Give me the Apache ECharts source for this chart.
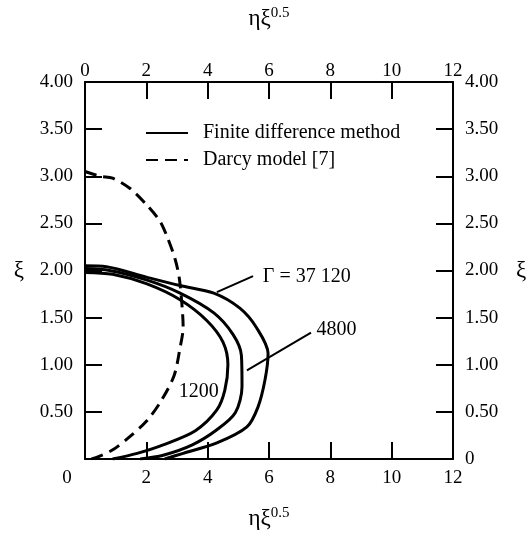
<!DOCTYPE html>
<html>
<head>
<meta charset="utf-8">
<script src="https://cdn.jsdelivr.net/npm/echarts@6/dist/echarts.min.js"></script>
<style>
  html, body { margin: 0; padding: 0; background: #fff; }
  #chart { width: 526px; height: 535px; }
</style>
</head>
<body>
<div id="chart"></div>
<script>
// curves: [eta*xi^0.5, xi]
const gamma37120 = [[0, 2.05], [0.7, 2.04], [2.0, 1.93], [3.1, 1.84], [4.2, 1.76], [5.05, 1.6], [5.6, 1.39], [5.97, 1.12],
  [5.87, 0.84], [5.64, 0.55], [5.28, 0.34], [4.3, 0.17], [3.2, 0.06], [2.6, 0]];
const gamma4800 = [[0, 2.02], [0.8, 2.0], [2.0, 1.9], [3.1, 1.76], [4.2, 1.55], [4.83, 1.32], [5.1, 1.1], [5.12, 0.77],
  [4.9, 0.49], [4.3, 0.31], [3.5, 0.15], [2.55, 0.04], [1.8, 0]];
const gamma1200 = [[0, 1.98], [0.9, 1.96], [2.0, 1.86], [3.1, 1.69], [3.97, 1.47], [4.5, 1.24], [4.66, 1.0], [4.56, 0.73],
  [4.3, 0.52], [3.6, 0.3], [2.55, 0.15], [1.7, 0.06], [0.9, 0]];
const darcy = [[0, 3.05], [0.5, 3.0], [0.9, 2.98], [1.47, 2.87], [2.0, 2.7], [2.45, 2.52], [2.7, 2.34], [2.93, 2.13],
  [3.07, 1.93], [3.17, 1.6], [3.2, 1.4], [3.1, 1.18], [2.9, 0.88], [2.45, 0.6], [2.0, 0.4], [1.47, 0.24], [0.92, 0.1],
  [0.4, 0.02], [0.2, 0]];

// annotations
const leader37120 = [[4.3, 1.77], [5.48, 1.94]];
const leader4800 = [[5.28, 0.94], [7.37, 1.34]];
const annoText = ['Γ = 37 120', '4800', '1200'];
const annoPos = [[5.8, 1.93], [7.55, 1.37], [3.06, 0.71]];

const xTicks = [0, 2, 4, 6, 8, 10, 12];
const yTicks = [0, 0.5, 1, 1.5, 2, 2.5, 3, 3.5, 4];

const font = '"Liberation Serif", "DejaVu Serif", serif';
const ink = '#000';

const nameRich = {
  a: { fontFamily: font, fontSize: 23, color: ink, lineHeight: 24, verticalAlign: 'bottom' },
  s: { fontFamily: font, fontSize: 15, color: ink, lineHeight: 24, verticalAlign: 'top' }
};

const chart = echarts.init(document.getElementById('chart'));

const axisCommon = {
  type: 'value',
  axisLine: { show: true, onZero: false, lineStyle: { color: ink, width: 2 } },
  axisTick: { show: true, inside: true, length: 17, lineStyle: { color: ink, width: 2 } },
  splitLine: { show: false }
};

function xAxis(pos) {
  return Object.assign({}, axisCommon, {
    position: pos,
    min: xTicks[0], max: xTicks[xTicks.length - 1], interval: 2,
    name: '{a|ηξ}{s|0.5}',
    nameLocation: 'middle',
    nameGap: pos === 'top' ? 52 : 47,
    nameTextStyle: { rich: nameRich },
    axisLabel: {
      fontFamily: font, fontSize: 19, color: ink, margin: pos === 'top' ? 1 : 10,
      formatter: v => (pos === 'bottom' && v === 0) ? '{z|0}' : String(v),
      rich: { z: { fontFamily: font, fontSize: 19, color: ink, padding: [0, 36, 0, 0] } }
    }
  });
}

function yAxis(pos) {
  return Object.assign({}, axisCommon, {
    position: pos,
    min: yTicks[0], max: yTicks[yTicks.length - 1], interval: 0.5,
    name: 'ξ',
    nameLocation: 'middle',
    nameRotate: 0,
    nameGap: pos === 'left' ? 61 : 63,
    nameTextStyle: { fontFamily: font, fontSize: 23, color: ink },
    axisLabel: {
      fontFamily: font, fontSize: 19, color: ink, margin: 12,
      formatter: v => v === 0 ? (pos === 'left' ? '' : '0') : v.toFixed(2)
    }
  });
}

function solid(data) {
  return {
    name: 'Finite difference method', type: 'line', data: data,
    xAxisIndex: 0, yAxisIndex: 0,
    showSymbol: false, symbol: 'none', smooth: 0.3,
    lineStyle: { color: ink, width: 3 }, itemStyle: { color: ink },
    z: 3
  };
}

function leader(data) {
  return {
    name: 'leader', type: 'line', data: data, symbol: 'none',
    lineStyle: { color: ink, width: 2 }, silent: true
  };
}

chart.setOption({
  animation: false,
  backgroundColor: '#fff',
  grid: { left: 85, right: 73, top: 82, bottom: 76, containLabel: false, outerBoundsMode: 'none' },
  xAxis: [xAxis('bottom'), xAxis('top')],
  yAxis: [yAxis('left'), yAxis('right')],
  legend: {
    data: ['Finite difference method', 'Darcy model [7]'],
    orient: 'vertical',
    left: 145, top: 123, padding: 0,
    itemWidth: 42, itemHeight: 14, itemGap: 7,
    itemStyle: { opacity: 0 },
    textStyle: { fontFamily: font, fontSize: 20, color: ink, padding: [0, 0, 0, 10] },
    selectedMode: false
  },
  series: [
    solid(gamma37120),
    solid(gamma4800),
    solid(gamma1200),
    {
      name: 'Darcy model [7]', type: 'line', data: darcy,
      showSymbol: false, symbol: 'none', smooth: 0.3,
      lineStyle: { color: ink, width: 3, type: [12, 7] }, itemStyle: { color: ink },
      z: 3
    },
    leader(leader37120),
    leader(leader4800),
    {
      name: 'labels', type: 'scatter', symbolSize: 0, silent: true,
      itemStyle: { opacity: 1, color: ink },
      data: annoPos.map((p, i) => ({ value: p, name: annoText[i] })),
      label: {
        show: true, position: 'right', distance: 0,
        formatter: p => p.name,
        fontFamily: font, fontSize: 20, color: ink
      }
    }
  ]
});
</script>
</body>
</html>
